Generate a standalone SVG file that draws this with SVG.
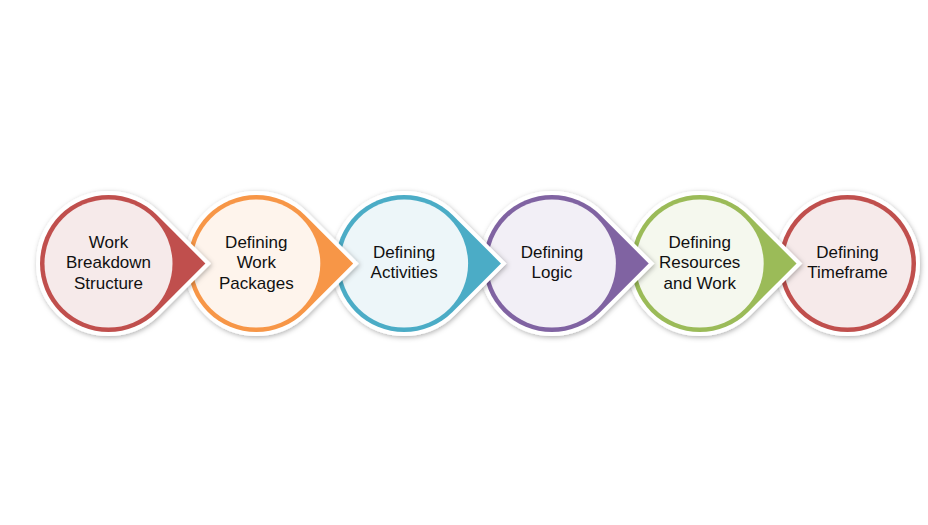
<svg xmlns="http://www.w3.org/2000/svg" xmlns:xlink="http://www.w3.org/1999/xlink" width="928" height="525" viewBox="0 0 928 525">
<style>
  .shape { stroke: #FFFFFF; stroke-width: 8; stroke-linejoin: miter; paint-order: stroke; filter: url(#sh); }
  .lbl { font-family: "Liberation Sans", Arial, sans-serif; font-size: 17px; fill: #111111; text-anchor: middle; }
</style>
<defs>
  <filter id="sh" x="-20%" y="-20%" width="140%" height="140%">
    <feDropShadow dx="1" dy="1.5" stdDeviation="2.5" flood-color="#000000" flood-opacity="0.3"/>
  </filter>
  <path id="tear" d="M96.87,0 L48.44,-48.44 A68.5,68.5 0 1 0 48.44,48.44 Z"/>
  <circle id="disc" r="68.5"/>
</defs>
<rect width="928" height="525" fill="#FFFFFF"/>

<g id="n6" transform="translate(847.5,263.5)">
  <use xlink:href="#disc" class="shape" fill="#C0504D"/>
  <circle r="64" fill="#F6EAEA"/>
  <text class="lbl"><tspan x="0" y="-5.5">Defining</tspan><tspan x="0" y="14.5">Timeframe</tspan></text>
</g>
<g id="n5" transform="translate(699.7,263.5)">
  <use xlink:href="#tear" class="shape" fill="#9BBB59"/>
  <circle r="64" fill="#F5F8EE"/>
  <text class="lbl"><tspan x="0" y="-15.5">Defining</tspan><tspan x="0" y="4.5">Resources</tspan><tspan x="0" y="25">and Work</tspan></text>
</g>
<g id="n4" transform="translate(551.9,263.5)">
  <use xlink:href="#tear" class="shape" fill="#8064A2"/>
  <circle r="64" fill="#F2EFF6"/>
  <text class="lbl"><tspan x="0" y="-5.5">Defining</tspan><tspan x="0" y="14.5">Logic</tspan></text>
</g>
<g id="n3" transform="translate(404.1,263.5)">
  <use xlink:href="#tear" class="shape" fill="#4BACC6"/>
  <circle r="64" fill="#EDF6F9"/>
  <text class="lbl"><tspan x="0" y="-5.5">Defining</tspan><tspan x="0" y="14.5">Activities</tspan></text>
</g>
<g id="n2" transform="translate(256.3,263.5)">
  <use xlink:href="#tear" class="shape" fill="#F79646"/>
  <circle r="64" fill="#FEF4EC"/>
  <text class="lbl"><tspan x="0" y="-15.5">Defining</tspan><tspan x="0" y="4.5">Work</tspan><tspan x="0" y="25">Packages</tspan></text>
</g>
<g id="n1" transform="translate(108.5,263.5)">
  <use xlink:href="#tear" class="shape" fill="#C0504D"/>
  <circle r="64" fill="#F6EAEA"/>
  <text class="lbl"><tspan x="0" y="-15.5">Work</tspan><tspan x="0" y="4.5">Breakdown</tspan><tspan x="0" y="25">Structure</tspan></text>
</g>
</svg>
